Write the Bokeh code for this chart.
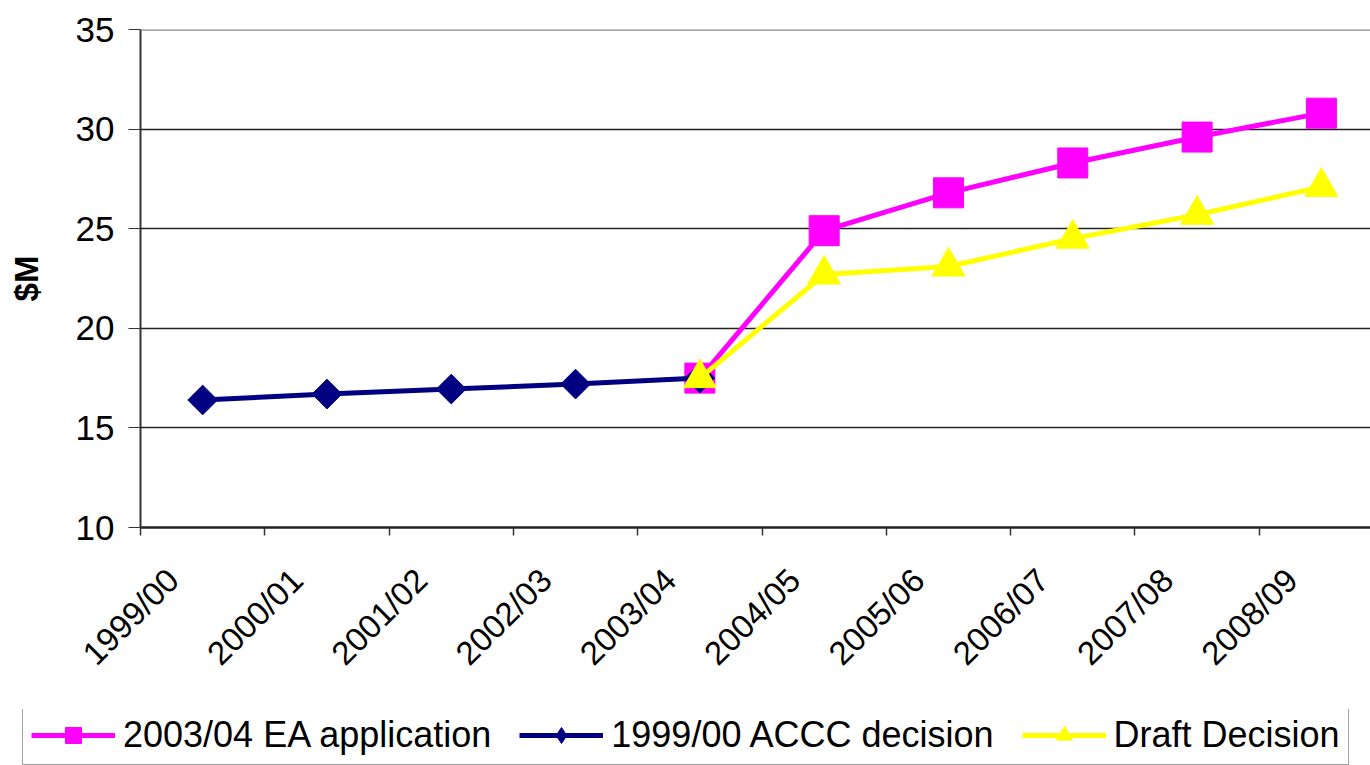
import math
from bokeh.plotting import figure
from bokeh.layouts import column
from bokeh.models import (Range1d, FixedTicker, Legend, LegendItem, Span)
from bokeh.embed import file_html
from bokeh.resources import INLINE

categories = ["1999/00", "2000/01", "2001/02", "2002/03", "2003/04",
              "2004/05", "2005/06", "2006/07", "2007/08", "2008/09"]
accc_idx = [0, 1, 2, 3, 4]
accc_vals = [16.4, 16.7, 16.95, 17.2, 17.5]
ea_idx = [4, 5, 6, 7, 8, 9]
ea_vals = [17.5, 24.9, 26.8, 28.3, 29.6, 30.8]
draft_idx = [4, 5, 6, 7, 8, 9]
draft_vals = [17.5, 22.7, 23.1, 24.5, 25.7, 27.1]
y_ticks = [10, 15, 20, 25, 30, 35]
series_labels = ["2003/04 EA application", "1999/00 ACCC decision", "Draft Decision"]

FONT = "Liberation Sans"
MAG = "#FF00FF"
NAVY = "#000080"
YEL = "#FFFF00"


def draw_series(fig, legend_strip=False):
    l1 = fig.line(ea_idx, ea_vals, line_color=MAG, line_width=5)
    m1 = fig.scatter(ea_idx, ea_vals, marker="square", size=30, fill_color=MAG, line_color=MAG)
    l2 = fig.line(accc_idx, accc_vals, line_color=NAVY, line_width=5)
    if legend_strip:
        m2 = fig.scatter(accc_idx, accc_vals, marker="diamond", size=30,
                         fill_color=NAVY, line_color=NAVY)
    else:
        m2 = fig.scatter(accc_idx, accc_vals, marker="square", size=21, angle=math.pi / 4,
                         fill_color=NAVY, line_color=NAVY)
    l3 = fig.line(draft_idx, draft_vals, line_color=YEL, line_width=5)
    m3 = fig.scatter(draft_idx, draft_vals, marker="triangle", size=33,
                     fill_color=YEL, line_color=YEL)
    return [[l1, m1], [l2, m2], [l3, m3]]


# ---------------- main chart ----------------
p = figure(width=1370, height=709, output_backend="svg", toolbar_location=None,
           x_range=Range1d(-0.5, 9.395), y_range=Range1d(10, 35),
           min_border_left=140, min_border_top=29, min_border_right=0,
           min_border_bottom=182)
p.outline_line_color = None
p.background_fill_color = "white"

p.xgrid.visible = False
p.ygrid.grid_line_color = "#222222"
p.ygrid.grid_line_width = 1.3
p.yaxis.ticker = FixedTicker(ticks=y_ticks)
p.add_layout(Span(location=35, dimension="width", line_color="#888888", line_width=2.5))

p.yaxis.axis_line_color = "#333333"
p.yaxis.axis_line_width = 2
p.yaxis.major_tick_line_color = "#333333"
p.yaxis.major_tick_out = 12
p.yaxis.major_tick_in = 0
p.yaxis.minor_tick_line_color = None
p.yaxis.major_label_text_font = FONT
p.yaxis.major_label_text_font_size = "35px"
p.yaxis.major_label_text_color = "black"
p.yaxis.major_label_standoff = 14
p.yaxis.axis_label = "$M"
p.yaxis.axis_label_text_font = FONT
p.yaxis.axis_label_text_font_style = "bold"
p.yaxis.axis_label_text_font_size = "33px"
p.yaxis.axis_label_text_color = "black"
p.yaxis.axis_label_standoff = 28

LAB_SHIFT = 0.24
p.xaxis.ticker = FixedTicker(ticks=[i - LAB_SHIFT for i in range(len(categories))],
                             minor_ticks=[i - 0.5 for i in range(len(categories) + 1)])
p.xaxis.major_label_overrides = {i - LAB_SHIFT: c for i, c in enumerate(categories)}
p.xaxis.axis_line_color = "#222222"
p.xaxis.axis_line_width = 2.5
p.xaxis.major_tick_line_color = None
p.xaxis.minor_tick_line_color = "#333333"
p.xaxis.minor_tick_line_width = 1.5
p.xaxis.minor_tick_out = 8
p.xaxis.minor_tick_in = 0
p.xaxis.major_label_orientation = math.pi / 4
p.xaxis.major_label_text_font = FONT
p.xaxis.major_label_text_font_size = "33px"
p.xaxis.major_label_text_color = "black"
p.xaxis.major_label_standoff = 39

draw_series(p)

# ---------------- legend strip (same series, legend only) ----------------
q = figure(width=1370, height=56, output_backend="svg", toolbar_location=None,
           x_range=Range1d(100, 101), y_range=Range1d(100, 101),
           min_border_left=0, min_border_right=0, min_border_top=0, min_border_bottom=0)
q.axis.visible = False
q.grid.visible = False
q.outline_line_color = None
rs = draw_series(q, legend_strip=True)

legend = Legend(items=[LegendItem(label=lab, renderers=r) for lab, r in zip(series_labels, rs)],
                orientation="horizontal", location=(22, 0), margin=0)
legend.label_text_font = FONT
legend.label_text_font_size = "36px"
legend.label_text_color = "black"
legend.glyph_width = 84
legend.glyph_height = 40
legend.label_standoff = 8
legend.spacing = 28
legend.padding = 8
legend.border_line_color = "#444444"
legend.border_line_width = 1.5
legend.background_fill_alpha = 1
q.add_layout(legend, "center")

layout = column(column(p), column(q), spacing=0)
open("out.html", "w").write(file_html(layout, INLINE))
